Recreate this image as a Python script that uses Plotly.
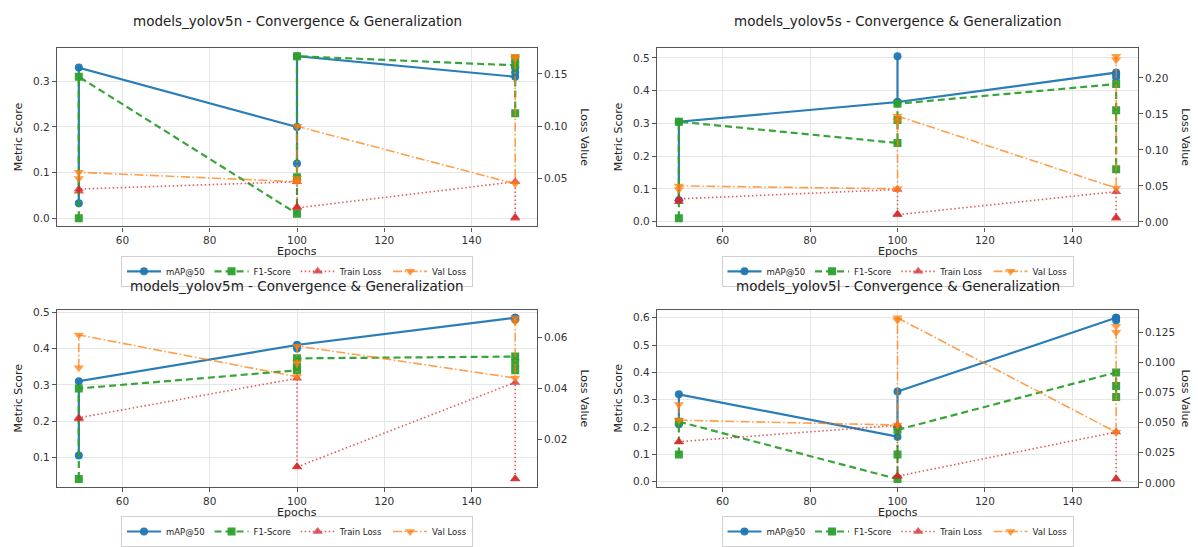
import plotly.graph_objects as go

# ---------------- data ----------------
epochs = [50, 50, 100, 100, 100, 150, 150, 150]
model_names = ["models_yolov5n", "models_yolov5s", "models_yolov5m", "models_yolov5l"]

yolov5n_map = [0.033, 0.330, 0.200, 0.120, 0.355, 0.310, 0.320, 0.330]
yolov5n_f1 = [0.000, 0.310, 0.010, 0.090, 0.355, 0.335, 0.350, 0.230]
yolov5n_train = [0.038, 0.040, 0.047, 0.023, 0.022, 0.047, 0.013, 0.012]
yolov5n_val = [0.050, 0.056, 0.047, 0.050, 0.100, 0.045, 0.165, 0.167]

yolov5s_map = [0.065, 0.305, 0.365, 0.505, 0.365, 0.455, 0.450, 0.440]
yolov5s_f1 = [0.010, 0.305, 0.240, 0.310, 0.360, 0.420, 0.340, 0.160]
yolov5s_train = [0.028, 0.032, 0.045, 0.011, 0.010, 0.042, 0.006, 0.005]
yolov5s_val = [0.045, 0.050, 0.046, 0.140, 0.147, 0.047, 0.225, 0.230]

yolov5m_map = [0.105, 0.310, 0.410, 0.400, 0.410, 0.485, 0.480, 0.485]
yolov5m_f1 = [0.040, 0.290, 0.340, 0.350, 0.373, 0.378, 0.360, 0.340]
yolov5m_train = [0.028, 0.0285, 0.0439, 0.0095, 0.0093, 0.0423, 0.0047, 0.0046]
yolov5m_val = [0.048, 0.0608, 0.0445, 0.050, 0.0565, 0.044, 0.066, 0.0675]

yolov5l_map = [0.210, 0.320, 0.165, 0.200, 0.330, 0.600, 0.600, 0.590]
yolov5l_f1 = [0.100, 0.220, 0.010, 0.100, 0.190, 0.400, 0.350, 0.310]
yolov5l_train = [0.034, 0.0342, 0.0478, 0.0058, 0.0056, 0.0422, 0.0034, 0.0032]
yolov5l_val = [0.065, 0.052, 0.048, 0.135, 0.137, 0.042, 0.125, 0.130]

x_ticks = [60, 80, 100, 120, 140]

series = [
    (yolov5n_map, yolov5n_f1, yolov5n_train, yolov5n_val),
    (yolov5s_map, yolov5s_f1, yolov5s_train, yolov5s_val),
    (yolov5m_map, yolov5m_f1, yolov5m_train, yolov5m_val),
    (yolov5l_map, yolov5l_f1, yolov5l_train, yolov5l_val),
]

# ---------------- styling ----------------
W, H = 1198, 547
panels = [(57, 537, 45, 227), (657, 1138, 45, 227), (57, 537, 312, 493), (657, 1138, 312, 493)]
left_dtick = [0.1, 0.1, 0.1, 0.1]
right_dtick = [0.05, 0.05, 0.02, 0.025]
right_fmt = [".2f", ".2f", ".2f", ".3f"]

BLUE = "rgba(31,119,180,0.95)"
GREEN = "rgba(44,160,44,0.95)"
RED = "rgba(214,39,40,0.75)"
ORANGE = "rgba(255,127,14,0.75)"
FONT = "DejaVu Sans, Liberation Sans, sans-serif"
FRAME = "#555555"


def padded(vals):
    lo, hi = min(vals), max(vals)
    p = 0.05 * (hi - lo)
    return [lo - p, hi + p]


def px_x(p):
    return p / W


def px_y(p):
    return 1 - p / H


fig = go.Figure()
layout = dict(
    width=W, height=H,
    margin=dict(l=0, r=0, t=0, b=0),
    paper_bgcolor="white", plot_bgcolor="white",
    font=dict(family=FONT, size=11, color="#222"),
    annotations=[],
)

for i, (name, (m, f, tr, va)) in enumerate(zip(model_names, series)):
    k = i + 1
    xname = "x" if k == 1 else f"x{k}"
    y1 = f"y{2 * k - 1}" if k > 1 else "y"
    y2 = f"y{2 * k}"
    leg = "legend" if k == 1 else f"legend{k}"
    x0, x1, yt, yb = panels[i]

    fig.add_trace(go.Scatter(x=epochs, y=m, name="mAP@50", mode="lines+markers",
                             line=dict(color=BLUE, width=2.2),
                             marker=dict(symbol="circle", size=8, color=BLUE),
                             xaxis=xname, yaxis=y1, legend=leg))
    fig.add_trace(go.Scatter(x=epochs, y=f, name="F1-Score", mode="lines+markers",
                             line=dict(color=GREEN, width=2.2, dash="7px,4px"),
                             marker=dict(symbol="square", size=8, color=GREEN),
                             xaxis=xname, yaxis=y1, legend=leg))
    fig.add_trace(go.Scatter(x=epochs, y=tr, name="Train Loss", mode="lines+markers",
                             line=dict(color=RED, width=1.6, dash="1.5px,2.5px"),
                             marker=dict(symbol="triangle-up", size=9, color=RED),
                             xaxis=xname, yaxis=y2, legend=leg))
    fig.add_trace(go.Scatter(x=epochs, y=va, name="Val Loss", mode="lines+markers",
                             line=dict(color=ORANGE, width=1.6, dash="9px,2.5px,1.5px,2.5px"),
                             marker=dict(symbol="triangle-down", size=9, color=ORANGE),
                             xaxis=xname, yaxis=y2, legend=leg))

    xdom = [px_x(x0), px_x(x1)]
    ydom = [px_y(yb), px_y(yt)]
    xkey = "xaxis" if k == 1 else f"xaxis{k}"
    y1key = "yaxis" if k == 1 else f"yaxis{2 * k - 1}"
    y2key = f"yaxis{2 * k}"

    layout[xkey] = dict(domain=xdom, anchor=y1, range=[45, 155], tickvals=x_ticks,
                        showline=True, mirror=True, linecolor=FRAME, linewidth=1.2,
                        ticks="outside", ticklen=4, tickcolor=FRAME,
                        showgrid=True, gridcolor="#e6e6e6", zeroline=False,
                        tickfont=dict(size=10.5, color="#333"))
    layout[y1key] = dict(domain=ydom, anchor=xname, range=padded(m + f), dtick=left_dtick[i],
                         tick0=0, tickformat=".1f",
                         showline=True, mirror=True, linecolor=FRAME, linewidth=1.2,
                         ticks="outside", ticklen=4, tickcolor=FRAME,
                         showgrid=True, gridcolor="#e6e6e6", zeroline=False,
                         tickfont=dict(size=10.5, color="#333"))
    layout[y2key] = dict(overlaying=y1, side="right", anchor=xname, range=padded(tr + va),
                         dtick=right_dtick[i], tick0=0, tickformat=right_fmt[i],
                         showline=False, ticks="outside", ticklen=4, tickcolor=FRAME,
                         showgrid=False, zeroline=False,
                         tickfont=dict(size=10.5, color="#333"))
    layout[leg] = dict(orientation="h", x=(xdom[0] + xdom[1]) / 2, xanchor="center",
                       y=px_y(yb + 30), yanchor="top",
                       font=dict(size=8.5, color="#222"),
                       bgcolor="rgba(255,255,255,0.9)", bordercolor="#d0d0d0", borderwidth=1,
                       itemwidth=34, tracegroupgap=0)

    cx = (x0 + x1) / 2
    cy = (yt + yb) / 2
    title_off = 28 if k <= 2 else 24
    layout["annotations"] += [
        dict(text=f"{name} - Convergence & Generalization", x=px_x(cx), y=px_y(yt - title_off),
             xref="paper", yref="paper", showarrow=False, xanchor="center", yanchor="middle",
             font=dict(size=13.5, color="#222")),
        dict(text="Epochs", x=px_x(cx), y=px_y(yb + 26), xref="paper", yref="paper",
             showarrow=False, xanchor="center", yanchor="middle", font=dict(size=11, color="#222")),
        dict(text="Metric Score", x=px_x(x0 - 39), y=px_y(cy), xref="paper", yref="paper",
             showarrow=False, textangle=-90, xanchor="center", yanchor="middle",
             font=dict(size=11, color="#222")),
        dict(text="Loss Value", x=px_x(x1 + 48), y=px_y(cy), xref="paper", yref="paper",
             showarrow=False, textangle=90, xanchor="center", yanchor="middle",
             font=dict(size=11, color="#222")),
    ]

fig.update_layout(**layout)
fig.write_html("out.html")
